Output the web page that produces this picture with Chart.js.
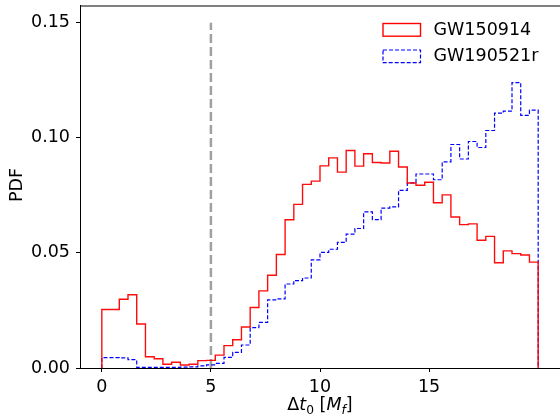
<!DOCTYPE html>
<html>
<head>
<meta charset="utf-8">
<script src="https://cdn.jsdelivr.net/npm/chart.js@4.4.0/dist/chart.umd.min.js"></script>
<style>
  html, body { margin: 0; padding: 0; background: #fff; }
  #wrap { width: 560px; height: 419px; }
</style>
</head>
<body>
<div id="wrap"><canvas id="pdfChart" width="560" height="419"></canvas></div>
<script>
// Histogram bins: 50 bins of width 0.4 from 0 to 20
const binStart = 0;
const binWidth = 0.4;

// PDF values per bin
const gw150914 = [
  0.0254, 0.0299, 0.0318, 0.0191, 0.0049, 0.0040, 0.0016, 0.0025, 0.0013, 0.0016,
  0.0032, 0.0033, 0.0056, 0.0097, 0.0123, 0.0178, 0.0263, 0.0335, 0.0403, 0.0493,
  0.0644, 0.0711, 0.0798, 0.0812, 0.0878, 0.0913, 0.0851, 0.0945, 0.0877, 0.0931,
  0.0893, 0.0891, 0.0942, 0.0873, 0.0804, 0.0794, 0.0807, 0.0718, 0.0752, 0.0656,
  0.0623, 0.0626, 0.0555, 0.0572, 0.0457, 0.0509, 0.0497, 0.0491, 0.0460, 0.0406
];
const gw190521r = [
  0.0045, 0.0044, 0.0036, 0.0003, 0.0003, 0.0003, 0.0003, 0.0003, 0.0004, 0.0005,
  0.0009, 0.0014, 0.0020, 0.0046, 0.0068, 0.0100, 0.0175, 0.0198, 0.0296, 0.0300,
  0.0365, 0.0380, 0.0391, 0.0470, 0.0502, 0.0516, 0.0546, 0.0582, 0.0606, 0.0678,
  0.0645, 0.0695, 0.0700, 0.0772, 0.0804, 0.0843, 0.0843, 0.0818, 0.0896, 0.0971,
  0.0908, 0.0984, 0.0958, 0.1032, 0.1107, 0.1116, 0.1240, 0.1098, 0.1120, 0.1007
];

const seriesNames = ['GW150914', 'GW190521r'];
const xTicks = [0, 5, 10, 15];
const yTicks = [0, 0.05, 0.10, 0.15];
const vlineX = 5;
const vlineTop = 0.15;

// step outline like matplotlib histtype='step'
function stepPoints(vals) {
  const pts = [{ x: binStart, y: 0 }, { x: binStart, y: vals[0] }];
  vals.forEach((v, i) => pts.push({ x: binStart + (i + 1) * binWidth, y: v }));
  const end = binStart + vals.length * binWidth;
  pts.push({ x: end, y: 0 });
  return pts;
}

const FONT = 'DejaVu Sans';
const FS = 17.5;

const decor = {
  id: 'decor',
  afterDraw(chart) {
    const ctx = chart.ctx;
    const a = chart.chartArea;
    ctx.save();
    // top spine
    ctx.strokeStyle = '#000';
    ctx.lineWidth = 1;
    ctx.beginPath();
    ctx.moveTo(a.left, a.top + 0.5);
    ctx.lineTo(a.right, a.top + 0.5);
    ctx.stroke();

    // legend
    const lx = 383, lw = 37.5, lh = 12.7;
    const rows = [
      { y: 23.5, color: '#ff0000', dash: [], width: 1.4, label: seriesNames[0] },
      { y: 50, color: '#0000ff', dash: [4, 2], width: 1.2, label: seriesNames[1] }
    ];
    ctx.font = FS + 'px "' + FONT + '"';
    ctx.textBaseline = 'middle';
    ctx.textAlign = 'left';
    rows.forEach(r => {
      ctx.strokeStyle = r.color;
      ctx.lineWidth = r.width;
      ctx.setLineDash(r.dash);
      ctx.strokeRect(lx, r.y, lw, lh);
      ctx.setLineDash([]);
      ctx.fillStyle = '#000';
      ctx.fillText(r.label, 433.5, r.y + lh / 2 + 0.5);
    });

    // y label
    ctx.save();
    ctx.translate(17, 185);
    ctx.rotate(-Math.PI / 2);
    ctx.textAlign = 'center';
    ctx.fillText('PDF', 0, 0);
    ctx.restore();

    // x label: Δt_0 [M_f]
    const parts = [
      { t: 'Δ', f: FS + 'px "' + FONT + '"', dy: 0 },
      { t: 't', f: 'italic ' + FS + 'px "' + FONT + '"', dy: 0 },
      { t: '0', f: (FS * 0.7) + 'px "' + FONT + '"', dy: 4 },
      { t: ' [', f: FS + 'px "' + FONT + '"', dy: 0 },
      { t: 'M', f: 'italic ' + FS + 'px "' + FONT + '"', dy: 0 },
      { t: 'f', f: 'italic ' + (FS * 0.7) + 'px "' + FONT + '"', dy: 4 },
      { t: ']', f: FS + 'px "' + FONT + '"', dy: 0 }
    ];
    let total = 0;
    parts.forEach(p => { ctx.font = p.f; p.w = ctx.measureText(p.t).width; total += p.w; });
    let x = (a.left + a.right) / 2 - total / 2;
    ctx.textAlign = 'left';
    ctx.textBaseline = 'alphabetic';
    parts.forEach(p => {
      ctx.font = p.f;
      ctx.fillText(p.t, x, 410 + p.dy);
      x += p.w;
    });
    ctx.restore();
  }
};

new Chart(document.getElementById('pdfChart').getContext('2d'), {
  type: 'line',
  data: {
    datasets: [
      {
        label: seriesNames[0],
        data: stepPoints(gw150914),
        stepped: 'before',
        borderColor: 'rgba(255, 0, 0, 0.95)',
        borderWidth: 1.4,
        pointRadius: 0,
        fill: false
      },
      {
        label: seriesNames[1],
        data: stepPoints(gw190521r),
        stepped: 'before',
        borderColor: '#0000ff',
        borderWidth: 1.2,
        borderDash: [4, 2],
        pointRadius: 0,
        fill: false
      },
      {
        label: 'vline',
        data: [{ x: vlineX, y: 0 }, { x: vlineX, y: vlineTop }],
        borderColor: 'rgba(128, 128, 128, 0.75)',
        borderWidth: 2.5,
        borderDash: [9, 4],
        pointRadius: 0,
        fill: false
      }
    ]
  },
  options: {
    responsive: false,
    animation: false,
    layout: { padding: { top: 5.5, right: 0, left: 0, bottom: 0 } },
    plugins: {
      legend: { display: false },
      tooltip: { enabled: false },
      title: { display: false }
    },
    scales: {
      x: {
        type: 'linear',
        min: -1,
        max: 21,
        afterBuildTicks: s => { s.ticks = xTicks.map(v => ({ value: v })); },
        afterFit: s => { s.height = 51; s.paddingLeft = 0; s.paddingRight = 0; },
        grid: { drawOnChartArea: false, drawTicks: true, tickLength: 4, color: '#000' },
        border: { display: true, color: '#000', width: 1 },
        ticks: {
          color: '#000',
          font: { family: FONT, size: FS },
          padding: 5,
          maxRotation: 0,
          callback: v => String(v)
        }
      },
      y: {
        type: 'linear',
        min: 0,
        max: 0.1575,
        afterBuildTicks: s => { s.ticks = yTicks.map(v => ({ value: v })); },
        afterFit: s => { s.width = 80; s.paddingTop = 0; s.paddingBottom = 0; },
        grid: { drawOnChartArea: false, drawTicks: true, tickLength: 4, color: '#000' },
        border: { display: true, color: '#000', width: 1 },
        ticks: {
          color: '#000',
          font: { family: FONT, size: FS },
          padding: 6,
          callback: v => v.toFixed(2)
        }
      }
    }
  },
  plugins: [decor]
});
</script>
</body>
</html>
